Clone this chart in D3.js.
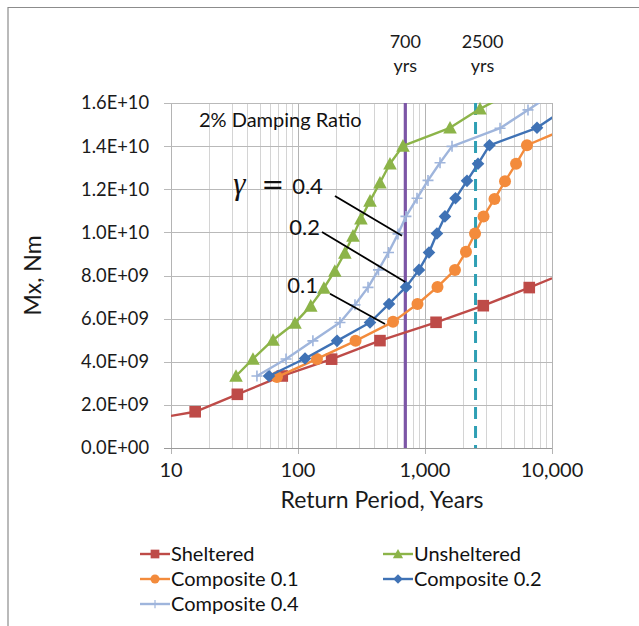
<!DOCTYPE html>
<html><head><meta charset="utf-8">
<script src="https://cdn.jsdelivr.net/npm/d3@7"></script>
<style>
html,body{margin:0;padding:0;background:#fff;}
svg{display:block;font-family:Lato,"Open Sans",sans-serif;}
</style></head>
<body>
<svg id="chart" width="639" height="626"></svg>
<script>
// ---------- data ----------
const xTickValues = [10, 100, 1000, 10000];
const xTickLabels = ["10", "100", "1,000", "10,000"];
const yTickValues = [0, 2e9, 4e9, 6e9, 8e9, 1e10, 1.2e10, 1.4e10, 1.6e10];
const yTickLabels = ["0.0E+00","2.0E+09","4.0E+09","6.0E+09","8.0E+09","1.0E+10","1.2E+10","1.4E+10","1.6E+10"];

const shelteredPeriods = [15.5, 33.3, 75.2, 184, 442, 1222, 2877, 6622];
const shelteredValues  = [1.68e9, 2.49e9, 3.34e9, 4.12e9, 4.98e9, 5.83e9, 6.60e9, 7.44e9];
const shelteredLineStart = [10, 1.49e9];
const shelteredLineEnd   = [10000, 7.87e9];

const unshelteredPeriods = [32.5, 44.2, 63.6, 94.7, 126, 160, 195, 234, 271, 313, 369, 442, 530, 671, 1574, 2711, 5600];
const unshelteredValues  = [3.34e9, 4.13e9, 5.01e9, 5.80e9, 6.59e9, 7.42e9, 8.21e9, 9.05e9, 9.84e9, 10.63e9, 11.46e9, 12.30e9, 13.18e9, 14.01e9, 14.85e9, 15.73e9, 16.7e9];

const comp01Periods = [68.3, 141, 284, 560, 873, 1254, 1722, 2102, 2477, 2891, 3527, 4266, 5212, 6353, 16600];
const comp01Values  = [3.29e9, 4.13e9, 4.97e9, 5.85e9, 6.68e9, 7.47e9, 8.26e9, 9.10e9, 9.95e9, 10.74e9, 11.55e9, 12.37e9, 13.18e9, 14.04e9, 15.08e9];

const comp02Periods = [59.1, 113.6, 203, 369, 521, 709, 897, 1075, 1242, 1436, 1738, 2141, 2614, 3219, 7620, 13870];
const comp02Values  = [3.34e9, 4.15e9, 4.97e9, 5.82e9, 6.68e9, 7.47e9, 8.26e9, 9.07e9, 9.95e9, 10.74e9, 11.58e9, 12.39e9, 13.18e9, 14.04e9, 14.85e9, 15.87e9];

const comp04Periods = [47.5, 80.5, 131, 214, 281, 356, 430, 516, 613, 708, 865, 1056, 1313, 1632, 3899, 6471, 11560];
const comp04Values  = [3.34e9, 4.13e9, 4.97e9, 5.82e9, 6.64e9, 7.45e9, 8.26e9, 9.07e9, 9.93e9, 10.74e9, 11.58e9, 12.41e9, 13.23e9, 13.99e9, 14.83e9, 15.68e9, 16.66e9];

const refPeriods = [700, 2500];
const refLabels = ["700", "2500"];

const seriesNames = ["Sheltered", "Unsheltered", "Composite 0.1", "Composite 0.2", "Composite 0.4"];
const seriesColors = ["#be4b48", "#8cb449", "#f38b3c", "#3f72b5", "#9fb5dc"];
const seriesMarkers = ["square", "triangle", "circle", "diamond", "plus"];

const gammaLabels = ["0.4", "0.2", "0.1"];
const gammaLabelPos = [[157, 11.79e9], [149, 9.88e9], [143.6, 7.19e9]];
const gammaLeaderStart = [[195.4, 11.69e9], [154.5, 10.02e9], [178.6, 7.15e9]];
const gammaLeaderEnd = [[659, 9.84e9], [700, 7.70e9], [484, 5.75e9]];
const dampingLabel = "2% Damping Ratio";
const dampingPos = [16.6, 14.9e9];

// ---------- layout ----------
const svg = d3.select("#chart");
const x = d3.scaleLog().domain([10, 10000]).range([171, 552]);
const y = d3.scaleLinear().domain([0, 1.6e10]).range([448, 103]);
const X0 = x.range()[0], X1 = x.range()[1], Y0 = y.range()[0], Y1 = y.range()[1];

// outer frame (top and left visible)
svg.append("line").attr("x1", 8).attr("x2", 639).attr("y1", 7.5).attr("y2", 7.5).attr("stroke", "#8c8c8c").attr("stroke-width", 1.2);
svg.append("line").attr("x1", 8).attr("x2", 8).attr("y1", 7).attr("y2", 626).attr("stroke", "#8c8c8c").attr("stroke-width", 1.2);

// gridlines
const minorTicks = [];
[10, 100, 1000].forEach(d => { for (let k = 2; k <= 9; k++) minorTicks.push(d * k); });
const grid = svg.append("g");
grid.selectAll("line.minor").data(minorTicks).join("line")
  .attr("x1", d => Math.round(x(d)) + 0.5).attr("x2", d => Math.round(x(d)) + 0.5)
  .attr("y1", Y1).attr("y2", Y0).attr("stroke", "#d4d4d4").attr("stroke-width", 1);
grid.selectAll("line.vmajor").data(xTickValues).join("line")
  .attr("x1", d => Math.round(x(d)) + 0.5).attr("x2", d => Math.round(x(d)) + 0.5)
  .attr("y1", Y1).attr("y2", Y0 + 6).attr("stroke", "#b4b4b4").attr("stroke-width", 1);
grid.selectAll("line.hmajor").data(yTickValues).join("line")
  .attr("x1", X0 - 7).attr("x2", X1)
  .attr("y1", d => Math.round(y(d)) + 0.5).attr("y2", d => Math.round(y(d)) + 0.5)
  .attr("stroke", d => d === 0 ? "#9a9a9a" : "#b9b9b9").attr("stroke-width", 1);

// axis labels
svg.append("g").selectAll("text").data(yTickValues).join("text")
  .attr("x", 149).attr("y", d => y(d)).attr("dy", "0.35em")
  .attr("text-anchor", "end").attr("font-size", 18.3).attr("fill", "#1a1a1a")
  .text((d, i) => yTickLabels[i]);
svg.append("g").selectAll("text").data(xTickValues).join("text")
  .attr("x", d => x(d)).attr("y", 477)
  .attr("text-anchor", "middle").attr("font-size", 20).attr("fill", "#1a1a1a")
  .text((d, i) => xTickLabels[i]);
svg.append("text").attr("x", 382).attr("y", 508).attr("text-anchor", "middle")
  .attr("font-size", 23).attr("fill", "#1a1a1a").text("Return Period, Years");
svg.append("text").attr("transform", `translate(41,${(Y0 + Y1) / 2}) rotate(-90)`).attr("text-anchor", "middle")
  .attr("font-size", 23).attr("fill", "#1a1a1a").text("Mx, Nm");

// reference lines
svg.append("line").attr("x1", x(refPeriods[0])).attr("x2", x(refPeriods[0])).attr("y1", Y1).attr("y2", Y0)
  .attr("stroke", "#7c56a6").attr("stroke-width", 3.2);
svg.append("line").attr("x1", x(refPeriods[1])).attr("x2", x(refPeriods[1])).attr("y1", Y1).attr("y2", Y0)
  .attr("stroke", "#2f9fb4").attr("stroke-width", 3).attr("stroke-dasharray", "12,7");
refPeriods.forEach((p, i) => {
  const t = svg.append("text").attr("text-anchor", "middle").attr("font-size", 18).attr("fill", "#1a1a1a");
  t.append("tspan").attr("x", x(p) + (i ? 7 : 0)).attr("y", 48).text(refLabels[i]);
  t.append("tspan").attr("x", x(p) + (i ? 7 : 0)).attr("y", 72).text("yrs");
});

// clip
svg.append("clipPath").attr("id", "plotclip").append("rect")
  .attr("x", X0).attr("y", Y1).attr("width", X1 - X0).attr("height", Y0 - Y1);

const line = d3.line().x(d => x(d[0])).y(d => y(d[1]));

const allSeries = [
  { pts: d3.zip(shelteredPeriods, shelteredValues), ext: [shelteredLineStart, shelteredLineEnd] },
  { pts: d3.zip(unshelteredPeriods, unshelteredValues) },
  { pts: d3.zip(comp01Periods, comp01Values) },
  { pts: d3.zip(comp02Periods, comp02Values) },
  { pts: d3.zip(comp04Periods, comp04Values) }
];

function marker(g, type, cx, cy, color, s) {
  s = s || 1;
  if (type === "square") g.append("rect").attr("x", cx - 5.8 * s).attr("y", cy - 5.8 * s).attr("width", 11.6 * s).attr("height", 11.6 * s).attr("fill", color);
  else if (type === "triangle") g.append("path").attr("d", `M${cx},${cy - 6.8 * s}L${cx + 6.8 * s},${cy + 5.8 * s}L${cx - 6.8 * s},${cy + 5.8 * s}Z`).attr("fill", color);
  else if (type === "circle") g.append("circle").attr("cx", cx).attr("cy", cy).attr("r", 6 * s).attr("fill", color);
  else if (type === "diamond") g.append("path").attr("d", `M${cx},${cy - 6.3 * s}L${cx + 6.3 * s},${cy}L${cx},${cy + 6.3 * s}L${cx - 6.3 * s},${cy}Z`).attr("fill", color);
  else if (type === "plus") g.append("path").attr("d", `M${cx - 5.5 * s},${cy}H${cx + 5.5 * s}M${cx},${cy - 5.5 * s}V${cy + 5.5 * s}`).attr("stroke", color).attr("stroke-width", 1.6 * s);
}

const order = [0, 2, 3, 4, 1];
order.forEach(i => {
  const s = allSeries[i];
  const lpts = s.ext ? [s.ext[0], ...s.pts, s.ext[1]] : s.pts;
  svg.append("path").attr("clip-path", "url(#plotclip)").attr("d", line(lpts))
    .attr("fill", "none").attr("stroke", seriesColors[i]).attr("stroke-width", 2.4).attr("stroke-linejoin", "round");
  const g = svg.append("g");
  s.pts.filter(p => p[0] <= 10000 && p[1] <= 1.6e10).forEach(p => marker(g, seriesMarkers[i], x(p[0]), y(p[1]), seriesColors[i]));
});

// annotations
svg.append("text").attr("x", x(dampingPos[0])).attr("y", y(dampingPos[1])).attr("font-size", 20).attr("fill", "#111").text(dampingLabel);
gammaLabels.forEach((lab, i) => {
  svg.append("line").attr("x1", x(gammaLeaderStart[i][0])).attr("y1", y(gammaLeaderStart[i][1]))
    .attr("x2", x(gammaLeaderEnd[i][0])).attr("y2", y(gammaLeaderEnd[i][1]))
    .attr("stroke", "#000").attr("stroke-width", 1.8);
  const t = svg.append("text").attr("x", x(gammaLabelPos[i][0])).attr("y", y(gammaLabelPos[i][1]))
    .attr("text-anchor", "end").attr("font-size", 22).attr("fill", "#111");
  if (i === 0) {
    t.append("tspan").attr("font-family", "'Liberation Serif',serif").attr("font-style", "italic").attr("font-size", 31).text("γ");
    t.append("tspan").attr("font-family", "'DejaVu Serif',serif").attr("font-size", 27).attr("dx", 16).text("=");
    t.append("tspan").attr("dx", 8).text(lab);
  } else t.text(lab);
});

// legend
const legendRows = [[0, 0], [1, 0], [0, 1], [1, 1], [0, 2]];
const lg = svg.append("g");
legendRows.forEach((rc, i) => {
  const lx = rc[0] ? 383 : 140, ly = 554 + rc[1] * 25;
  lg.append("line").attr("x1", lx).attr("x2", lx + 30).attr("y1", ly).attr("y2", ly).attr("stroke", seriesColors[i]).attr("stroke-width", 2.4);
  marker(lg, seriesMarkers[i], lx + 15, ly, seriesColors[i], 0.75);
  lg.append("text").attr("x", lx + 31).attr("y", ly).attr("dy", "0.35em").attr("font-size", 20).attr("fill", "#111").text(seriesNames[i]);
});
</script>
</body></html>
